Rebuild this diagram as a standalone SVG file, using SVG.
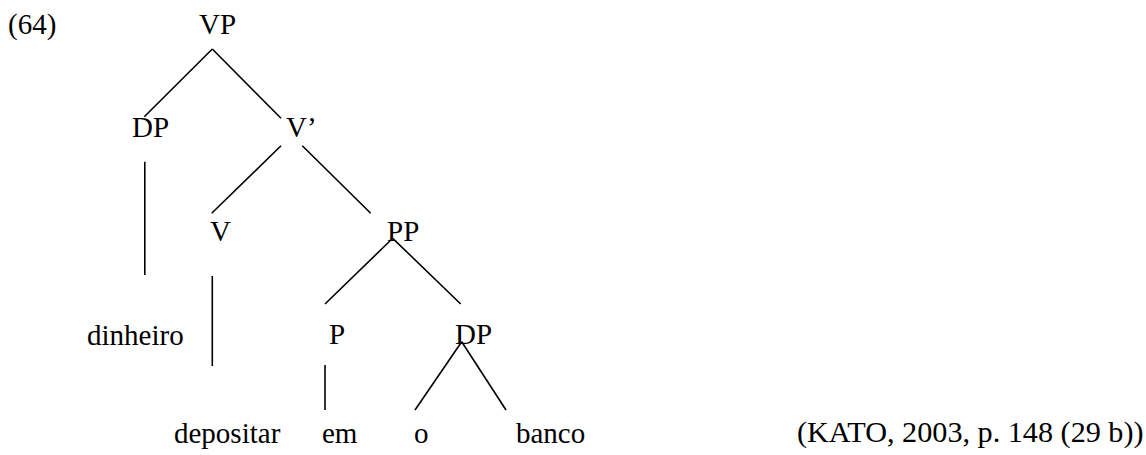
<svg xmlns="http://www.w3.org/2000/svg" width="1146" height="455" viewBox="0 0 1146 455">
<style>
text{font-family:"Liberation Serif","Times New Roman",serif;font-size:29px;fill:#000}
.c line{stroke:#000;stroke-width:1.6;stroke-linecap:butt}
</style>
<rect width="1146" height="455" fill="#fff"/>
<text x="8" y="34">(64)</text>
<g id="n-VP"><text x="199" y="34">VP</text></g>
<g id="n-DP1"><text x="132" y="137">DP</text></g>
<g id="n-Vbar"><text x="286" y="137">V’</text></g>
<g id="n-V"><text x="210" y="241">V</text></g>
<g id="n-PP"><text x="387" y="241">PP</text></g>
<g id="n-dinheiro"><text x="87" y="345">dinheiro</text></g>
<g id="n-P"><text x="329" y="344">P</text></g>
<g id="n-DP2"><text x="455" y="344">DP</text></g>
<g id="n-depositar"><text x="174" y="443">depositar</text></g>
<g id="n-em"><text x="322" y="443">em</text></g>
<g id="n-o"><text x="414" y="443">o</text></g>
<g id="n-banco"><text x="516" y="443">banco</text></g>
<g id="citation"><text x="797" y="442" style="font-size:30.2px">(KATO, 2003, p. 148 (29 b))</text></g>
<g class="c" id="connectors">
<line x1="212.3" y1="49" x2="144.3" y2="116.7"/>
<line x1="212.3" y1="49" x2="281" y2="118.3"/>
<line x1="144.8" y1="161.7" x2="144.8" y2="275"/>
<line x1="281" y1="145.7" x2="211.7" y2="213.3"/>
<line x1="302.3" y1="145.7" x2="370.7" y2="213.3"/>
<line x1="212.3" y1="276" x2="212.3" y2="366"/>
<line x1="392.7" y1="238.3" x2="325" y2="304"/>
<line x1="392.7" y1="238.3" x2="460.7" y2="304"/>
<line x1="325" y1="365" x2="325" y2="410"/>
<line x1="461.7" y1="341.7" x2="415" y2="410"/>
<line x1="461.7" y1="341.7" x2="506" y2="410"/>
</g>
</svg>
